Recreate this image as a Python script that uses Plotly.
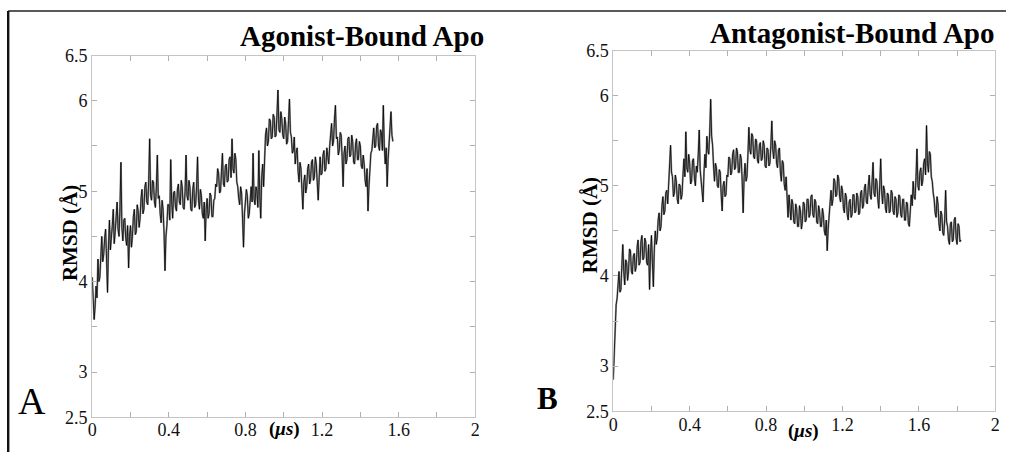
import plotly.graph_objects as go

# reference picture size; positions below are pixels of that picture.
W, H = 1011, 462
# measured mapping of this page onto the returned picture (picture = o + s * page)
SX, OX = 0.991, 3.8
SY, OY = 0.955, 9.5

# ---------------- data ----------------
time_step_us = 0.005

agonist_rmsd = [
    4.05, 3.80, 3.58, 3.72, 3.95, 3.82, 4.25, 4.00, 4.05, 4.28,
    4.50, 4.22, 4.30, 4.48, 4.58, 4.25, 3.88, 4.40, 4.68, 4.35,
    4.45, 4.62, 4.80, 4.42, 4.55, 4.75, 4.88, 4.58, 4.50, 4.82,
    5.32, 4.60, 4.45, 4.68, 4.70, 4.48, 4.40, 4.62, 4.15, 4.50,
    4.62, 4.38, 4.50, 4.72, 4.80, 4.52, 4.55, 4.85, 4.78, 4.60,
    4.70, 4.92, 5.02, 4.75, 4.80, 5.05, 5.10, 4.88, 4.85, 5.12,
    5.58, 4.95, 4.90, 5.12, 5.10, 4.88, 4.82, 5.05, 5.40, 4.92,
    4.95, 4.75, 4.65, 4.90, 4.80, 4.55, 4.12, 4.50, 4.62, 4.85,
    4.85, 4.68, 5.35, 4.88, 4.70, 4.98, 5.00, 4.82, 4.78, 5.02,
    5.08, 4.88, 4.85, 5.12, 5.05, 4.82, 4.80, 5.00, 5.40, 4.95,
    4.90, 5.12, 5.05, 4.80, 4.78, 5.02, 5.10, 4.82, 4.85, 5.05,
    5.38, 4.90, 4.80, 5.02, 4.95, 4.75, 4.70, 4.88, 4.45, 4.80,
    4.92, 4.70, 4.75, 4.98, 4.95, 4.72, 4.72, 4.90, 4.92, 5.08,
    5.05, 5.25, 5.20, 4.98, 5.00, 5.22, 5.42, 5.08, 5.05, 5.28,
    5.30, 5.10, 5.12, 5.35, 5.38, 5.15, 5.58, 5.25, 5.20, 5.42,
    5.35, 5.10, 5.05, 4.92, 4.85, 5.05, 4.98, 4.70, 4.38, 4.75,
    4.85, 5.02, 4.95, 4.70, 4.75, 4.98, 5.05, 4.88, 5.42, 4.92,
    4.85, 5.05, 5.00, 4.82, 5.45, 4.95, 4.70, 5.15, 5.30, 5.05,
    5.45, 5.62, 5.70, 5.50, 5.55, 5.80, 5.78, 5.58, 5.60, 5.85,
    5.82, 5.60, 5.62, 5.85, 6.12, 5.68, 5.65, 5.88, 5.80, 5.62,
    5.58, 5.82, 5.75, 5.52, 5.55, 5.78, 6.02, 5.65, 5.60, 5.42,
    5.45, 5.60, 5.30, 5.42, 5.48, 5.22, 5.10, 5.32, 5.25, 5.02,
    4.80, 5.10, 5.18, 4.98, 5.05, 5.25, 5.30, 5.08, 5.12, 5.32,
    5.35, 5.12, 5.15, 5.38, 5.30, 5.10, 4.90, 5.15, 5.38, 5.18,
    5.20, 5.40, 5.45, 5.22, 5.25, 5.48, 5.40, 5.30, 5.50, 5.68,
    5.75, 5.50, 5.55, 5.80, 5.95, 5.58, 5.60, 5.40, 5.45, 5.65,
    5.62, 5.38, 5.05, 5.42, 5.50, 5.30, 5.35, 5.58, 5.60, 5.38,
    5.40, 5.62, 5.55, 5.32, 5.30, 5.52, 5.58, 5.35, 5.35, 5.55,
    5.50, 5.28, 5.25, 5.40, 5.30, 5.12, 5.05, 5.25, 4.78, 5.05,
    5.20, 5.42, 5.45, 5.62, 5.70, 5.48, 5.50, 5.72, 5.75, 5.50,
    5.45, 5.68, 5.65, 5.45, 5.95, 5.50, 5.30, 5.48, 5.05, 5.35,
    5.55, 5.72, 5.88, 5.62, 5.55,
]

antagonist_rmsd = [
    2.85, 3.20, 3.50, 3.68, 3.75, 3.98, 4.05, 3.82, 3.85, 4.12,
    4.35, 4.05, 3.90, 4.18, 4.15, 3.95, 4.05, 4.30, 4.28, 4.05,
    4.02, 4.22, 4.25, 4.05, 4.10, 4.32, 4.40, 4.12, 4.15, 4.38,
    4.45, 4.18, 4.20, 4.42, 4.38, 4.15, 4.12, 4.35, 3.85, 4.25,
    4.45, 4.15, 3.88, 4.30, 4.50, 4.35, 4.42, 4.62, 4.70, 4.50,
    4.55, 4.78, 4.88, 4.68, 4.72, 4.92, 4.95, 4.80, 5.05, 5.30,
    5.45, 5.15, 5.10, 4.88, 4.92, 5.12, 5.05, 4.85, 4.80, 5.02,
    5.00, 4.85, 4.90, 5.12, 5.30, 5.10, 5.60, 5.20, 5.15, 5.35,
    5.25, 5.02, 5.05, 5.28, 5.30, 5.08, 5.00, 5.22, 5.15, 5.35,
    5.62, 5.18, 5.05, 4.90, 4.82, 5.15, 5.35, 5.20, 5.55, 5.40,
    5.35, 5.60, 5.96, 5.55, 5.45, 5.22, 5.05, 5.25, 5.20, 5.00,
    4.98, 5.18, 5.15, 4.90, 4.72, 5.00, 5.05, 4.88, 4.90, 5.12,
    5.10, 5.32, 5.30, 5.12, 5.15, 5.35, 5.40, 5.18, 5.20, 5.42,
    5.38, 5.15, 5.15, 5.35, 5.30, 5.05, 4.70, 5.10, 5.25, 5.05,
    5.10, 5.35, 5.65, 5.40, 5.35, 5.58, 5.55, 5.32, 5.30, 5.52,
    5.50, 5.28, 5.25, 5.45, 5.48, 5.28, 5.30, 5.50, 5.45, 5.22,
    5.20, 5.42, 5.40, 5.22, 5.25, 5.45, 5.72, 5.40, 5.30, 5.50,
    5.45, 5.25, 5.20, 5.40, 5.42, 5.15, 5.05, 5.28, 5.25, 5.02,
    4.95, 5.10, 4.78, 4.65, 4.90, 4.75, 4.62, 4.85, 4.80, 4.60,
    4.58, 4.80, 4.75, 4.55, 4.55, 4.78, 4.72, 4.52, 4.60, 4.82,
    4.80, 4.60, 4.62, 4.85, 4.85, 4.65, 4.68, 4.88, 4.90, 4.68,
    4.65, 4.85, 4.82, 4.60, 4.58, 4.78, 4.72, 4.55, 4.55, 4.75,
    4.68, 4.50, 4.45, 4.62, 4.28, 4.52, 4.70, 4.88, 4.95, 4.78,
    4.85, 5.08, 5.05, 4.88, 4.90, 5.12, 5.08, 4.88, 4.82, 5.00,
    4.95, 4.75, 4.70, 4.92, 4.88, 4.68, 4.62, 4.82, 4.85, 4.65,
    4.68, 4.90, 4.90, 4.70, 4.72, 4.92, 4.88, 4.68, 4.70, 4.92,
    4.95, 4.75, 4.78, 4.98, 5.02, 4.82, 4.80, 5.00, 5.12, 4.90,
    4.85, 5.05, 5.26, 4.92, 4.88, 5.08, 5.05, 4.85, 4.75, 5.00,
    5.30, 4.95, 4.80, 5.00, 4.95, 4.75, 4.70, 4.92, 4.90, 4.70,
    4.72, 4.95, 4.92, 4.72, 4.68, 4.88, 4.85, 4.65, 4.70, 4.90,
    4.88, 4.68, 4.65, 4.85, 4.85, 4.62, 4.62, 4.82, 4.80, 4.58,
    4.55, 4.72, 4.90, 4.78, 5.05, 4.88, 4.85, 5.10, 5.41, 5.00,
    4.95, 5.15, 5.20, 5.00, 5.05, 5.25, 5.30, 5.12, 5.67, 5.25,
    5.15, 5.38, 5.35, 5.10, 5.05, 4.92, 4.85, 4.70, 4.65, 4.88,
    4.80, 4.58, 4.50, 4.72, 4.68, 4.48, 4.45, 4.62, 4.95, 4.60,
    4.55, 4.40, 4.35, 4.58, 4.60, 4.38, 4.40, 4.62, 4.65, 4.42,
    4.35, 4.58, 4.55, 4.38, 4.40,
]

agonist_time = [round(i * time_step_us, 3) for i in range(len(agonist_rmsd))]
antagonist_time = [round(i * time_step_us, 3) for i in range(len(antagonist_rmsd))]

panel_titles = ["Agonist-Bound Apo", "Antagonist-Bound Apo"]
panel_letters = ["A", "B"]

x_tickvals = [0, 0.2, 0.4, 0.6, 0.8, 1.0, 1.2, 1.4, 1.6, 1.8, 2.0]
x_ticktext = ["0", "", "0.4", "", "0.8", "", "1.2", "", "1.6", "", "2"]
y_tickvals = [2.5, 3, 3.5, 4, 4.5, 5, 5.5, 6, 6.5]
y_ticktext = ["2.5", "3", "", "4", "", "5", "", "6", "6.5"]

# ---------------- figure ----------------
SERIF = "Liberation Serif, Times New Roman, serif"

def px_x(p):
    return min(1.0, max(0.0, ((p - OX) / SX) / W))

def px_y(p):
    return min(1.0, max(0.0, 1 - ((p - OY) / SY) / H))

fig = go.Figure()

series = [(agonist_time, agonist_rmsd, "x", "y"),
          (antagonist_time, antagonist_rmsd, "x2", "y2")]
for t, v, xa, ya in series:
    fig.add_trace(go.Scatter(x=t, y=v, xaxis=xa, yaxis=ya, mode="lines",
                             line=dict(color="#959595", width=1.9),
                             hoverinfo="skip", showlegend=False))
    fig.add_trace(go.Scatter(x=t, y=v, xaxis=xa, yaxis=ya, mode="lines",
                             line=dict(color="#000000", width=0.8),
                             showlegend=False))

axis_common = dict(showline=True, linecolor="#c4c4c4", linewidth=1,
                   mirror="ticks", ticks="inside", ticklen=5,
                   tickcolor="#b0b0b0", tickwidth=1, showgrid=False,
                   zeroline=False, tickfont=dict(family=SERIF, size=18, color="#111"))

fig.update_layout(
    autosize=True,
    margin=dict(l=0, r=0, t=0, b=0),
    paper_bgcolor="white", plot_bgcolor="white",
    xaxis=dict(domain=[px_x(92), px_x(475)], range=[0, 2], anchor="y",
               tickvals=x_tickvals, ticktext=x_ticktext, ticklabelstandoff=-4,
               **axis_common),
    yaxis=dict(domain=[px_y(416), px_y(55)], range=[2.5, 6.5], anchor="x",
               tickvals=y_tickvals, ticktext=y_ticktext, **axis_common),
    xaxis2=dict(domain=[px_x(613), px_x(995)], range=[0, 2], anchor="y2",
                tickvals=x_tickvals, ticktext=x_ticktext, ticklabelstandoff=-3,
                **axis_common),
    yaxis2=dict(domain=[px_y(410), px_y(50)], range=[2.5, 6.5], anchor="x2",
                tickvals=y_tickvals, ticktext=y_ticktext, **axis_common),
)

ann = []
ann.append(dict(text="<b>%s</b>" % panel_titles[0], x=px_x(362), y=px_y(35),
                font=dict(family=SERIF, size=29, color="#000")))
ann.append(dict(text="<b>%s</b>" % panel_titles[1], x=px_x(852), y=px_y(32),
                font=dict(family=SERIF, size=29, color="#000")))
ann.append(dict(text="<b>RMSD (Å)</b>", x=px_x(70), y=px_y(232), textangle=-90,
                font=dict(family=SERIF, size=21, color="#000")))
ann.append(dict(text="<b>RMSD (Å)</b>", x=px_x(590), y=px_y(224), textangle=-90,
                font=dict(family=SERIF, size=21, color="#000")))
ann.append(dict(text="<b>(<i>μs</i>)</b>", x=px_x(284), y=px_y(428),
                font=dict(family=SERIF, size=19, color="#000")))
ann.append(dict(text="<b>(<i>μs</i>)</b>", x=px_x(803), y=px_y(430),
                font=dict(family=SERIF, size=19, color="#000")))
ann.append(dict(text=panel_letters[0], x=px_x(32), y=px_y(400),
                font=dict(family=SERIF, size=38, color="#000")))
ann.append(dict(text="<b>%s</b>" % panel_letters[1], x=px_x(547), y=px_y(397),
                font=dict(family=SERIF, size=31, color="#000")))

for a in ann:
    a.update(xref="paper", yref="paper", showarrow=False,
             xanchor="center", yanchor="middle")
fig.update_layout(annotations=ann)

top_y = 1 - 1.0 / H
left_x = px_x(8)
fig.update_layout(shapes=[
    dict(type="line", xref="paper", yref="paper", x0=left_x, x1=1,
         y0=top_y, y1=top_y, line=dict(color="#222", width=1.5)),
    dict(type="line", xref="paper", yref="paper", x0=left_x, x1=left_x,
         y0=top_y, y1=0, line=dict(color="#111", width=2.4)),
])

fit_page = (
    "var s=document.documentElement.style;s.margin='0';s.padding='0';s.overflow='hidden';"
    "var b=document.body.style;b.margin='0';b.padding='0';b.overflow='hidden';"
    "var gd=document.getElementById('{plot_id}');"
    "Plotly.relayout(gd,{width:window.innerWidth,height:window.innerHeight});"
)

fig.write_html("out.html", config={"displayModeBar": False, "responsive": True},
               default_width="100vw", default_height="100vh",
               post_script=fit_page)
